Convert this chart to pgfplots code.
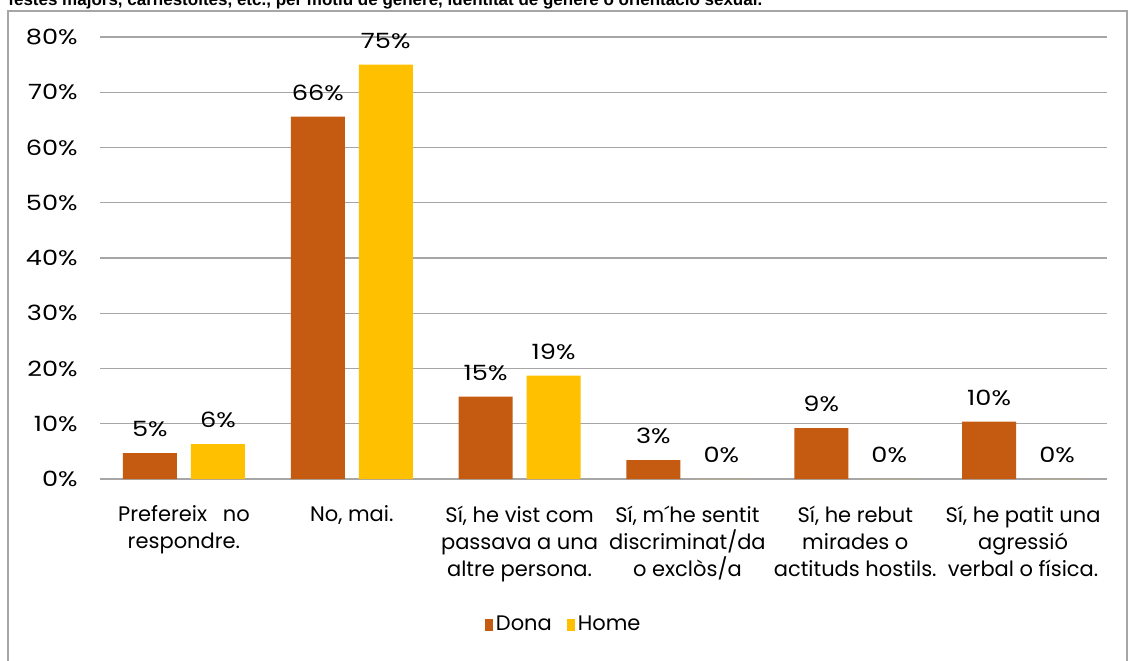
\documentclass[border=0pt]{standalone}
\usepackage{pgfplots}
\pgfplotsset{compat=1.18}
\usepackage{fontspec}
\setmainfont{Poppins}
\newfontfamily\numfont{Poppins}[FakeStretch=1.22]
\newfontfamily\titlefont{Liberation Sans}
\definecolor{dona}{HTML}{C55A11}
\definecolor{home}{HTML}{FFC000}
\definecolor{gridgray}{HTML}{A6A6A6}
\begin{document}
\begin{tikzpicture}
\useasboundingbox (0,0) rectangle (564pt,-330pt);
\clip (0,0) rectangle (564pt,-330pt);
% outer frame of the chart area
\draw[gridgray, line width=0.6pt] (4pt,-5.5pt) rectangle (563.5pt,-340pt);
% title line, cut off at the top as in the screenshot
\node[anchor=base west, inner sep=0pt, font=\titlefont\bfseries\fontsize{8.5}{10}\selectfont]
  at (4pt,-2.8pt) {festes majors, carnestoltes, etc., per motiu de gènere, identitat de gènere o orientació sexual.};
\begin{axis}[
    at={(50pt,-239.5pt)}, anchor=south west,
    scale only axis,
    width=503.5pt, height=221pt,
    ybar, bar width=27pt,
    xmin=-0.5, xmax=5.5,
    ymin=0, ymax=80,
    ytick={0,10,...,80},
    yticklabel={\pgfmathprintnumber{\tick}\%},
    xtick=data,
    xticklabels={
      {Prefereix\hspace{0.75em}no\\respondre.},
      {No, mai.},
      {Sí, he vist com\\passava a una\\altre persona.},
      {Sí, m´he sentit\\discriminat/da\\o exclòs/a},
      {Sí, he rebut\\mirades o\\actituds hostils.},
      {Sí, he patit una\\agressió\\verbal o física.}},
    /pgf/number format/assume math mode=true,
    axis line style={draw=none},
    tick style={draw=none},
    ymajorgrids,
    major grid style={gridgray, line width=0.7pt},
    yticklabel style={anchor=east, inner sep=0pt, xshift=-11pt, font=\numfont\fontsize{10.5}{12}\selectfont},
    xticklabel style={anchor=north, align=center, inner sep=0pt, yshift=-9pt, font=\fontsize{10.5}{13.5}\selectfont},
    nodes near coords={\pgfmathprintnumber[fixed, precision=0]{\pgfplotspointmeta}\%},
    every node near coord/.append style={anchor=center, yshift=12pt, font=\numfont\fontsize{10.5}{12}\selectfont, text=black},
    legend image code/.code={\fill[#1] (0pt,-3pt) rectangle (4pt,3pt);},
    legend style={at={(0.461,-0.330)}, anchor=center, draw=none, fill=none,
      legend columns=2, font=\fontsize{10.5}{12}\selectfont,
      /tikz/every even column/.append style={column sep=6pt},
      nodes={inner xsep=1.5pt}},
]
\addplot[fill=dona, draw=none, bar shift=-17pt] coordinates
  {(0,4.7) (1,65.6) (2,14.9) (3,3.4) (4,9.2) (5,10.4)};
\addlegendentry{Dona}
\addplot[fill=home, draw=none, bar shift=17pt] coordinates
  {(0,6.3) (1,75.0) (2,18.7) (3,0) (4,0) (5,0)};
\addlegendentry{Home}
\end{axis}
\end{tikzpicture}
\end{document}
